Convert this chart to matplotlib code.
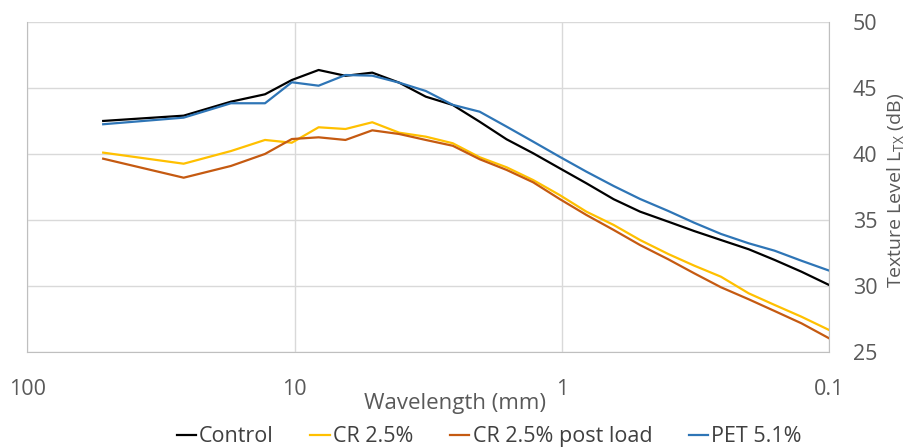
import matplotlib
matplotlib.use('Agg')
import matplotlib.pyplot as plt
from matplotlib.ticker import FixedLocator, FixedFormatter

plt.rcParams['font.family'] = ['Open Sans', 'DejaVu Sans']
plt.rcParams['mathtext.default'] = 'regular'

wavelength = [52, 26, 17.3, 12.9, 10.24, 8.13, 6.45, 5.12, 4.06, 3.23, 2.56, 2.03,
              1.61, 1.28, 1.02, 0.81, 0.64, 0.51, 0.40, 0.32, 0.254, 0.20, 0.16, 0.127, 0.1]

control = [42.48, 42.88, 43.94, 44.50, 45.58, 46.34, 45.90, 46.14, 45.38, 44.32, 43.69, 42.42,
           41.09, 40.03, 38.90, 37.76, 36.55, 35.61, 34.85, 34.14, 33.46, 32.76, 31.95, 31.06, 30.05]
cr25 = [40.08, 39.24, 40.20, 41.04, 40.83, 42.00, 41.87, 42.38, 41.59, 41.29, 40.79, 39.73,
        38.97, 38.00, 36.87, 35.61, 34.60, 33.46, 32.40, 31.52, 30.68, 29.42, 28.54, 27.65, 26.64]
cr25_post = [39.62, 38.18, 39.07, 39.98, 41.11, 41.24, 41.04, 41.77, 41.49, 41.04, 40.60, 39.58,
             38.77, 37.83, 36.57, 35.36, 34.22, 33.08, 32.00, 30.94, 29.88, 28.97, 28.08, 27.15, 26.01]
pet51 = [42.23, 42.73, 43.82, 43.82, 45.41, 45.15, 45.96, 45.91, 45.38, 44.75, 43.70, 43.18,
         42.05, 40.91, 39.77, 38.64, 37.55, 36.57, 35.66, 34.77, 33.92, 33.21, 32.65, 31.89, 31.14]

series = [('Control', control, '#000000'),
          ('CR 2.5%', cr25, '#FFC000'),
          ('CR 2.5% post load', cr25_post, '#C55A11'),
          ('PET 5.1%', pet51, '#2E75B6')]

x_ticks = [100, 10, 1, 0.1]
x_labels = ['100', '10', '1', '0.1']
y_ticks = [25, 30, 35, 40, 45, 50]

fig = plt.figure(figsize=(9.06, 4.48), dpi=100)
ax = fig.add_axes([0.0301, 0.215, 0.8851, 0.7366])

for name, vals, col in series:
    ax.plot(wavelength, vals, color=col, lw=1.6, label=name)

ax.set_xscale('log')
ax.set_xlim(100, 0.1)
ax.set_ylim(25, 50)
ax.xaxis.set_major_locator(FixedLocator(x_ticks))
ax.xaxis.set_major_formatter(FixedFormatter(x_labels))
ax.xaxis.set_minor_locator(FixedLocator([]))
ax.set_yticks(y_ticks)
ax.yaxis.tick_right()
ax.grid(True, color='#d9d9d9', lw=1)
ax.set_axisbelow(True)
ax.tick_params(axis='both', length=0, labelsize=15.5, colors='#595959')
ax.tick_params(axis='x', pad=20)
ax.tick_params(axis='y', pad=17)
for s in ['left', 'right', 'bottom']:
    ax.spines[s].set_color('#bfbfbf')
ax.spines['top'].set_visible(False)

fig.text(0.502, 0.1, 'Wavelength (mm)', ha='center', va='center', fontsize=16, color='#595959')
fig.text(0.988, 0.576, 'Texture Level L$_{TX}$ (dB)', rotation=90, ha='center', va='center',
         fontsize=14, color='#595959')

fig.legend(loc='center', bbox_to_anchor=(0.54, 0.025), ncol=4, frameon=False, fontsize=15.5,
           handlelength=0.9, handletextpad=0.15, columnspacing=1.7, labelcolor='#404040')

fig.savefig('out.png', dpi=100)
